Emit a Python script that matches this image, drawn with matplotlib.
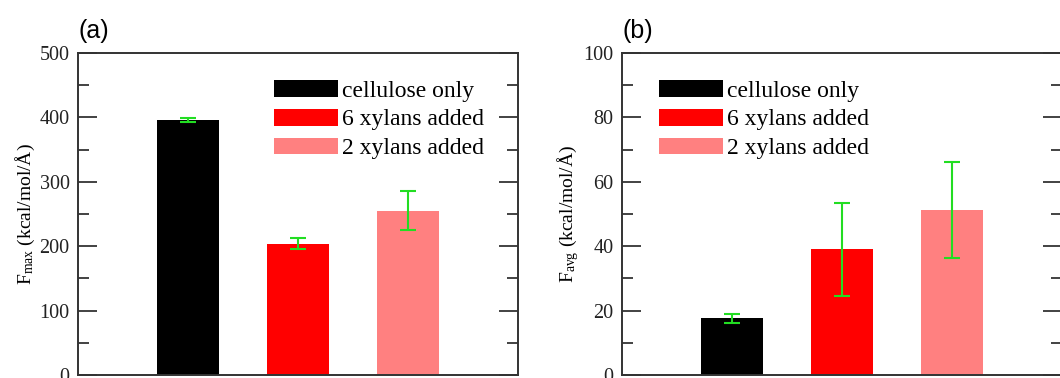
import matplotlib.pyplot as plt
from matplotlib.patches import Patch
from matplotlib.ticker import MultipleLocator

plt.rcParams['font.family'] = ['Liberation Serif', 'DejaVu Serif']
plt.rcParams['mathtext.fontset'] = 'custom'
plt.rcParams['mathtext.rm'] = 'Liberation Serif'
plt.rcParams['mathtext.it'] = 'Liberation Serif:italic'

labels = ["cellulose only", "6 xylans added", "2 xylans added"]
colors = ["#000000", "#ff0000", "#ff8080"]
positions = [1, 2, 3]

fmax = [396, 204, 255]
fmax_err = [3.5, 9, 30]

favg = [17.6, 39.0, 51.2]
favg_err = [1.4, 14.5, 14.8]

fig = plt.figure(figsize=(10.6, 3.78), dpi=100)
ax_a = fig.add_axes([78 / 1060, 3 / 378, 440 / 1060, 322 / 378])
ax_b = fig.add_axes([622 / 1060, 3 / 378, 440 / 1060, 322 / 378])

panels = [
    (ax_a, fmax, fmax_err, 500, 100, 50, r"F$_{\mathrm{max}}$ (kcal/mol/Å)", "(a)", 78, 274),
    (ax_b, favg, favg_err, 100, 20, 10, r"F$_{\mathrm{avg}}$ (kcal/mol/Å)", "(b)", 622, 659),
]

for ax, vals, errs, ymax, major, minor, ylab, tag, x0, legx in panels:
    ax.bar(positions, vals, width=0.57, color=colors)
    ax.errorbar(positions, vals, yerr=errs, fmt='none', ecolor='#22dd22',
                elinewidth=1.5, capsize=6, capthick=1.5)
    ax.set_xlim(0, 4)
    ax.set_ylim(0, ymax)
    ax.set_xticks([])
    ax.yaxis.set_major_locator(MultipleLocator(major))
    ax.yaxis.set_minor_locator(MultipleLocator(minor))
    ax.tick_params(axis='y', which='both', direction='in', left=True, right=True,
                   labelsize=14.5, width=1.2, pad=6, colors='#222222')
    ax.tick_params(axis='y', which='major', length=14)
    ax.tick_params(axis='y', which='minor', length=8)
    for s in ax.spines.values():
        s.set_linewidth(1.4)
        s.set_color('#333333')
    ax.set_ylabel(ylab, fontsize=14, labelpad=2)

    handles = [Patch(facecolor=c, edgecolor='none') for c in colors]
    ax.legend(handles, labels, loc='upper left',
              bbox_to_anchor=(legx / 1060, 1 - 80 / 378), bbox_transform=fig.transFigure,
              frameon=False, fontsize=17, handlelength=2.7, handleheight=0.72,
              handletextpad=0.2, labelspacing=0.3, borderpad=0, borderaxespad=0)

    fig.text((x0 + 1) / 1060, 1 - 31 / 378, tag, fontsize=18,
             family=['Liberation Sans', 'DejaVu Sans'], va='center', ha='left')

fig.savefig("out.png", dpi=100)
